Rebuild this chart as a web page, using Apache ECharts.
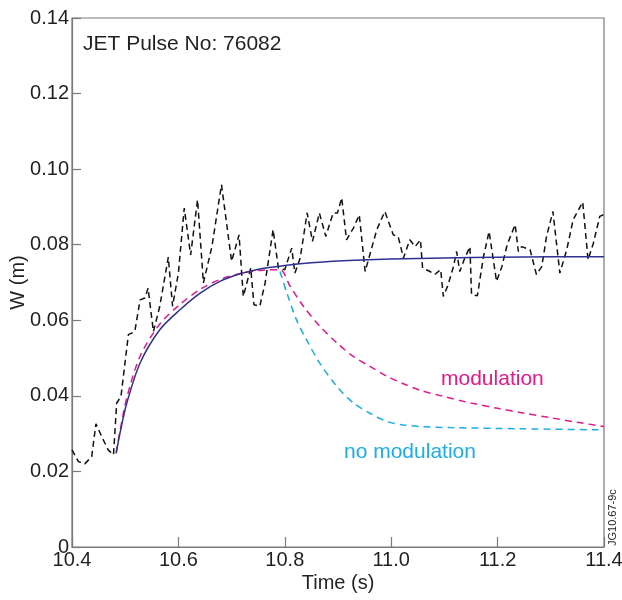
<!DOCTYPE html>
<html>
<head>
<meta charset="utf-8">
<script src="https://cdn.jsdelivr.net/npm/echarts@6/dist/echarts.min.js"></script>
<style>
  html, body { margin: 0; padding: 0; background: #fff; }
  #chart { width: 622px; height: 600px; }
</style>
</head>
<body>
<div id="chart"></div>
<script>
// measured W (black dashed), [time, W]
const pulseData = [
  [10.4, 0.0257], [10.412, 0.0226], [10.424, 0.022], [10.437, 0.0239], [10.445, 0.0326],
  [10.456, 0.0292], [10.468, 0.0257], [10.478, 0.0244], [10.484, 0.0381], [10.492, 0.0398],
  [10.506, 0.0562], [10.518, 0.057], [10.528, 0.0654], [10.537, 0.0659], [10.543, 0.0685],
  [10.553, 0.057], [10.565, 0.0637], [10.581, 0.0767], [10.589, 0.0637], [10.6, 0.0725],
  [10.611, 0.0897], [10.623, 0.0773], [10.636, 0.0919], [10.647, 0.0699], [10.663, 0.0795],
  [10.681, 0.0959], [10.7, 0.0756], [10.714, 0.0826], [10.722, 0.0663], [10.736, 0.0738],
  [10.742, 0.0641], [10.753, 0.0637], [10.763, 0.0699], [10.778, 0.084], [10.788, 0.0738],
  [10.8, 0.0734], [10.813, 0.0791], [10.819, 0.0725], [10.829, 0.0765], [10.842, 0.0884],
  [10.852, 0.0809], [10.865, 0.0884], [10.877, 0.0822], [10.891, 0.0884], [10.899, 0.0884],
  [10.907, 0.0924], [10.916, 0.0813], [10.929, 0.0844], [10.94, 0.0879], [10.951, 0.0729],
  [10.973, 0.084], [10.988, 0.0888], [11.004, 0.0826], [11.013, 0.0822], [11.023, 0.0765],
  [11.035, 0.0813], [11.045, 0.0795], [11.055, 0.0813], [11.059, 0.0738], [11.073, 0.0729],
  [11.082, 0.0721], [11.093, 0.0734], [11.098, 0.0663], [11.107, 0.0694], [11.117, 0.0742],
  [11.123, 0.0782], [11.129, 0.0729], [11.137, 0.076], [11.148, 0.0795], [11.151, 0.0668],
  [11.162, 0.0665], [11.173, 0.0765], [11.184, 0.0835], [11.198, 0.0703], [11.208, 0.0742],
  [11.218, 0.08], [11.233, 0.0853], [11.239, 0.0782], [11.245, 0.0795], [11.261, 0.0787],
  [11.273, 0.0721], [11.283, 0.0742], [11.292, 0.0822], [11.304, 0.0888], [11.317, 0.0725],
  [11.33, 0.0787], [11.342, 0.0866], [11.36, 0.0913], [11.37, 0.076], [11.38, 0.0804],
  [11.392, 0.0875], [11.4, 0.088]
];

// model (blue solid)
const modelData = [
  [10.483, 0.0248], [10.49, 0.030], [10.503, 0.0381], [10.528, 0.0487], [10.565, 0.0575],
  [10.603, 0.0628], [10.641, 0.0672], [10.678, 0.0703], [10.716, 0.0723], [10.753, 0.0736],
  [10.8, 0.0745], [10.85, 0.0752], [10.9, 0.0757], [11.0, 0.0762], [11.1, 0.0765],
  [11.2, 0.0767], [11.3, 0.0768], [11.4, 0.0768]
];

// with modulation (magenta dashed)
const modulationData = [
  [10.483, 0.025], [10.49, 0.0305], [10.503, 0.0395], [10.528, 0.0505], [10.565, 0.059],
  [10.603, 0.0642], [10.641, 0.0682], [10.678, 0.0708], [10.716, 0.0724], [10.753, 0.0732],
  [10.791, 0.0734], [10.81, 0.069], [10.835, 0.0637], [10.866, 0.0584], [10.898, 0.054],
  [10.929, 0.0504], [10.96, 0.0478], [10.992, 0.0452], [11.023, 0.0432], [11.054, 0.0415],
  [11.1, 0.0398], [11.15, 0.0381], [11.2, 0.0367], [11.25, 0.0354], [11.3, 0.0342],
  [11.35, 0.033], [11.4, 0.0319]
];

// no modulation (cyan dashed)
const noModulationData = [
  [10.791, 0.0729], [10.804, 0.0672], [10.822, 0.0601], [10.841, 0.0548], [10.866, 0.0486],
  [10.898, 0.0425], [10.929, 0.0381], [10.96, 0.0354], [10.992, 0.0332], [11.023, 0.0323],
  [11.054, 0.0319], [11.111, 0.0316], [11.242, 0.0313], [11.4, 0.031]
];

const fontFamily = 'Liberation Sans, Arial, sans-serif'
const axisColor = '#7a7a7a'
const textColor = '#231f20'

const chart = echarts.init(document.getElementById('chart'))

chart.setOption({
  backgroundColor: '#fff',
  animation: false,
  textStyle: { fontFamily: fontFamily },
  title: {
    text: 'JET Pulse No: 76082',
    left: 78,
    top: 29,
    textStyle: { fontSize: 21, fontWeight: 'normal', color: textColor, fontFamily: fontFamily }
  },
  grid: {
    left: 72,
    right: 18,
    top: 18,
    bottom: 53,
    outerBoundsMode: 'none',
    containLabel: false,
    show: true,
    borderColor: axisColor,
    borderWidth: 1.2
  },
  xAxis: {
    type: 'value',
    min: 10.4,
    max: 11.4,
    interval: 0.2,
    name: 'Time (s)',
    nameLocation: 'middle',
    nameGap: 26,
    nameMoveOverlap: false,
    nameTextStyle: { fontSize: 20, color: textColor },
    axisLine: { show: true, lineStyle: { color: axisColor, width: 1.2 } },
    axisTick: { show: true, inside: true, length: 10, lineStyle: { color: axisColor, width: 1.2 } },
    axisLabel: {
      fontSize: 20,
      color: textColor,
      margin: 3,
      formatter: v => v.toFixed(1)
    },
    splitLine: { show: false }
  },
  yAxis: {
    type: 'value',
    min: 0,
    max: 0.14,
    interval: 0.02,
    name: 'W (m)',
    nameLocation: 'middle',
    nameGap: 44,
    nameMoveOverlap: false,
    nameTextStyle: { fontSize: 20, color: textColor },
    axisLine: { show: true, lineStyle: { color: axisColor, width: 1.2 } },
    axisTick: { show: true, inside: true, length: 9, lineStyle: { color: axisColor, width: 1.2 } },
    axisLabel: {
      fontSize: 20,
      color: textColor,
      margin: 3,
      formatter: v => (v === 0 ? '0' : v.toFixed(2))
    },
    splitLine: { show: false }
  },
  series: [
    {
      name: 'measured',
      type: 'line',
      data: pulseData,
      showSymbol: false,
      clip: true,
      lineStyle: { color: '#111', width: 1.5, type: [6, 4] }
    },
    {
      name: 'no modulation',
      type: 'line',
      data: noModulationData,
      showSymbol: false,
      smooth: 0.3,
      lineStyle: { color: '#1aaee6', width: 1.5, type: [7, 5] }
    },
    {
      name: 'modulation',
      type: 'line',
      data: modulationData,
      showSymbol: false,
      smooth: 0.3,
      lineStyle: { color: '#e8178a', width: 1.5, type: [7, 5] }
    },
    {
      name: 'model',
      type: 'line',
      data: modelData,
      showSymbol: false,
      smooth: 0.3,
      lineStyle: { color: '#2e3192', width: 1.5 }
    }
  ],
  graphic: [
    {
      type: 'text',
      left: 441,
      top: 369,
      style: { text: 'modulation', fontSize: 21, fill: '#e8178a', fontFamily: fontFamily }
    },
    {
      type: 'text',
      left: 344,
      top: 442,
      style: { text: 'no modulation', fontSize: 21, fill: '#1aaee6', fontFamily: fontFamily }
    },
    {
      type: 'text',
      x: 613,
      y: 546,
      rotation: Math.PI / 2,
      style: {
        text: 'JG10.67-9c',
        fontSize: 11,
        fill: textColor,
        fontFamily: fontFamily,
        textAlign: 'left',
        textVerticalAlign: 'middle'
      }
    }
  ]
})
</script>
</body>
</html>
